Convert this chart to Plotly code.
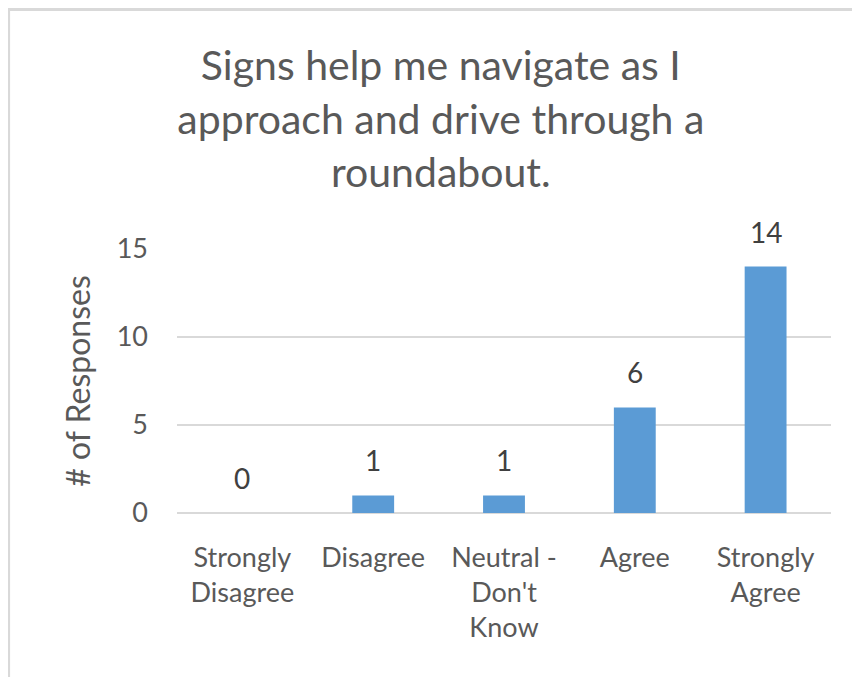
import plotly.graph_objects as go

categories = ['Strongly<br>Disagree', 'Disagree', 'Neutral -<br>Don\'t<br>Know', 'Agree', 'Strongly<br>Agree']
responses = [0, 1, 1, 6, 14]
y_ticks = [0, 5, 10, 15]

title_text = 'Signs help me navigate as I<br>approach and drive through a<br>roundabout.'
font_family = 'Lato, "Open Sans", sans-serif'
gray = '#595959'

data = [go.Bar(x=categories,
               y=responses,
               marker=dict(color='#5B9BD5', line=dict(width=0)))]

# value labels sit a bit higher above the bars than plotly's outside text
labels = [dict(x=c, y=v, text=str(v), showarrow=False, yanchor='bottom', yshift=16,
               font=dict(size=28, color='#404040'))
          for c, v in zip(categories, responses)]

layout = go.Layout(
    width=852, height=669,
    paper_bgcolor='white', plot_bgcolor='white',
    font=dict(family=font_family, color=gray),
    title=dict(text=title_text, font=dict(size=41, color=gray),
               xref='container', x=0.508, xanchor='center',
               yref='container', y=0.892, yanchor='middle'),
    margin=dict(l=169, r=29, t=241, b=164),
    bargap=0.68,
    showlegend=False,
    annotations=labels,
    xaxis=dict(tickfont=dict(size=27, color=gray), ticks='', ticklabelstandoff=26,
               showline=False, showgrid=False),
    yaxis=dict(range=[0, 15], tickvals=y_ticks, tickfont=dict(size=27, color=gray),
               ticks='', ticklabelstandoff=28,
               showgrid=True, gridcolor='#D9D9D9', gridwidth=1.5,
               zeroline=True, zerolinecolor='#D9D9D9', zerolinewidth=1.5,
               title=dict(text='# of Responses', font=dict(size=32, color=gray), standoff=16)),
    shapes=[dict(type='rect', xref='paper', yref='paper',
                 x0=-0.2575, x1=1.2, y0=-1.0, y1=1.907,
                 line=dict(color='#D9D9D9', width=3), layer='below')],
)

fig = go.Figure(data=data, layout=layout)
fig.write_html('out.html')
